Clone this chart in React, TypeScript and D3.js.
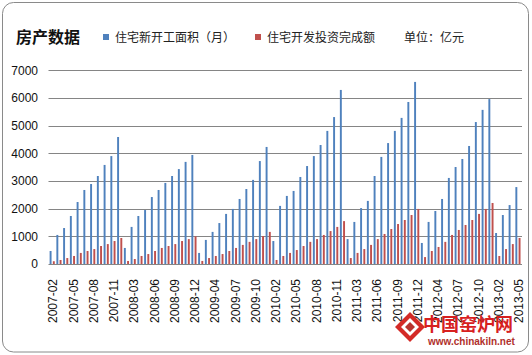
import React from "react";
import * as d3 from "d3";

const years = [2007, 2008, 2009, 2010, 2011, 2012];
const monthsPerYear = ["02", "03", "04", "05", "06", "07", "08", "09", "10", "11", "12"];
const months2013 = ["02", "03", "04", "05"];
const categories: string[] = [
  ...years.flatMap((y) => monthsPerYear.map((m) => `${y}-${m}`)),
  ...months2013.map((m) => `2013-${m}`),
];

// 住宅新开工面积（月）
const newStarts = [
  470, 1050, 1300, 1735, 2240, 2675, 2890, 3180, 3580, 3900, 4590,
  580, 1340, 1735, 1950, 2420, 2675, 2930, 3180, 3430, 3690, 3940,
  400, 870, 1160, 1480, 1810, 1990, 2350, 2710, 3040, 3720, 4230,
  830, 2100, 2460, 2640, 3145, 3540, 3900, 4300, 4810, 5310, 6290,
  900, 1520, 2020, 2280, 3180, 3870, 4370, 4810, 5280, 5855, 6580,
  760, 1520, 1915, 2350, 3110, 3505, 3795, 4265, 5130, 5570, 5960,
  1120, 1770, 2130, 2780,
];

// 住宅开发投资完成额
const investment = [
  100, 145, 215, 290, 400, 470, 540, 650, 720, 830, 940,
  110, 180, 290, 360, 470, 580, 650, 720, 830, 900, 1000,
  110, 215, 290, 360, 470, 580, 690, 800, 900, 1010, 1160,
  145, 290, 400, 505, 650, 800, 900, 1050, 1190, 1340, 1550,
  215, 400, 540, 690, 900, 1085, 1265, 1445, 1590, 1770, 1990,
  250, 470, 615, 800, 1050, 1230, 1410, 1590, 1810, 1990, 2205,
  290, 540, 720, 940,
];

const yTicks = [0, 1000, 2000, 3000, 4000, 5000, 6000, 7000];
const seriesNames = ["住宅新开工面积（月）", "住宅开发投资完成额"];
const colors = ["#4F81BD", "#C0504D"];

const W = 532;
const H = 355;

export default function App() {
  const x0 = d3.scaleBand<string>().domain(categories).range([48.5, 521]).padding(0);
  const x1 = d3
    .scaleBand<string>()
    .domain(["a", "b"])
    .range([0, x0.bandwidth()])
    .paddingInner(0.4)
    .paddingOuter(0.25)
    .align(0.7);
  const y = d3.scaleLinear().domain([0, 7000]).range([264, 70.3]);

  const cjk = "'Noto Sans CJK SC', sans-serif";
  const latin = "'Liberation Sans', Arial, sans-serif";

  return (
    <svg
      width={W}
      height={H}
      style={{ position: "absolute", left: 0, top: 0, background: "#fff" }}
    >
      <rect x={2.5} y={2.5} width={526} height={349.5} rx={11} ry={11} fill="#fff" stroke="#8a8a8a" strokeWidth={1} />

      {/* title & legend */}
      <text x={16} y={43} fontFamily={cjk} fontWeight="bold" fontSize={16} fill="#111">
        房产数据
      </text>
      <rect x={103} y={34} width={6} height={6} fill={colors[0]} />
      <text x={115} y={41.5} fontFamily={cjk} fontSize={12} fill="#222">
        {seriesNames[0]}
      </text>
      <rect x={255} y={34} width={6} height={6} fill={colors[1]} />
      <text x={267} y={41.5} fontFamily={cjk} fontSize={12} fill="#222">
        {seriesNames[1]}
      </text>
      <text x={404} y={41.5} fontFamily={cjk} fontSize={12} fill="#222">
        单位：亿元
      </text>

      {/* gridlines */}
      {yTicks.map((t) => (
        <line key={t} x1={48.5} x2={522} y1={Math.round(y(t)) + 0.5} y2={Math.round(y(t)) + 0.5} stroke="#858585" strokeWidth={1} />
      ))}
      {yTicks.map((t) => (
        <text key={"l" + t} x={38} y={y(t)} dy="0.35em" textAnchor="end" fontFamily={latin} fontSize={12} fill="#111">
          {t}
        </text>
      ))}

      {/* bars */}
      {categories.map((c, i) => (
        <g key={c} transform={`translate(${x0(c)},0)`}>
          <rect x={x1("a")} width={x1.bandwidth()} y={y(newStarts[i])} height={y(0) - y(newStarts[i])} fill={colors[0]} />
          <rect x={x1("b")} width={x1.bandwidth()} y={y(investment[i])} height={y(0) - y(investment[i])} fill={colors[1]} />
        </g>
      ))}

      {/* x labels */}
      {categories.map((c, i) =>
        i % 3 === 0 ? (
          <text
            key={"x" + c}
            transform={`translate(${(x0(c) as number) + x0.bandwidth() / 2 + 1.3},279) rotate(-90)`}
            dy="0.35em"
            textAnchor="end"
            fontFamily={latin}
            fontSize={12}
            fill="#111"
          >
            {c}
          </text>
        ) : null
      )}

      {/* watermark */}
      <g>
        <polygon points="410,312 425,327 410,342 395,327" fill="#d42a26" />
        <polygon points="410,318 419,327 410,336 401,327" fill="#fff" />
        <polygon points="410,322 415,327 410,332 405,327" fill="#b8332e" />
        <text x={423} y={331} fontFamily={cjk} fontWeight="bold" fontSize={18} fill="#d7201f">
          中国窑炉网
        </text>
        <text x={428} y={345} fontFamily={latin} fontWeight="bold" fontSize={10} fill="#b0302c">
          www.chinakiln.net
        </text>
      </g>
    </svg>
  );
}
